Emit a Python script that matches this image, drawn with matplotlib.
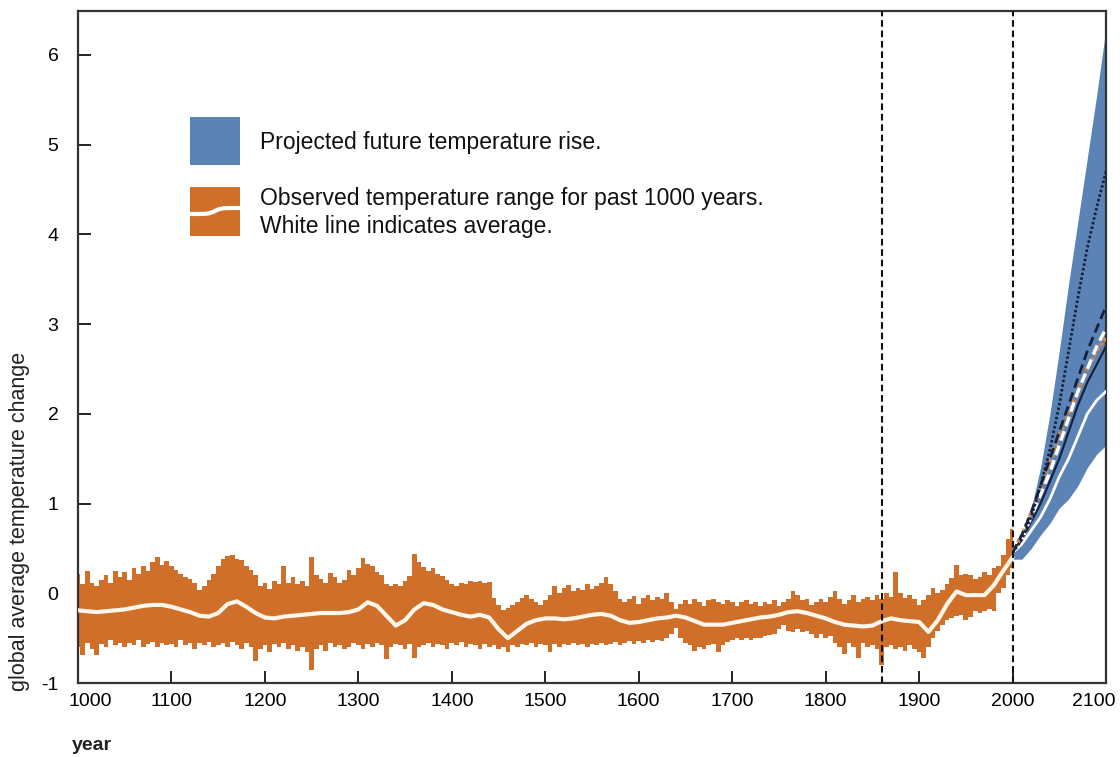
import numpy as np
import matplotlib
matplotlib.use("Agg")
import matplotlib.pyplot as plt
from matplotlib.patches import Rectangle
from matplotlib.lines import Line2D
from matplotlib.transforms import ScaledTranslation

plt.rcParams['font.family'] = ['Liberation Sans', 'DejaVu Sans']

# ---------------- data ----------------
# observed range, 5-year steps 1000..2000
obs_years = list(range(1000, 2001, 5))
obs_upper = [
    0.22, 0.10, 0.25, 0.12, 0.08, 0.15, 0.20, 0.12, 0.25, 0.18,
    0.24, 0.15, 0.28, 0.22, 0.30, 0.25, 0.35, 0.40, 0.32, 0.36,
    0.30, 0.26, 0.22, 0.18, 0.16, 0.12, 0.04, 0.08, 0.15, 0.22,
    0.30, 0.38, 0.41, 0.43, 0.38, 0.37, 0.30, 0.26, 0.20, 0.08,
    0.12, 0.05, 0.14, 0.10, 0.30, 0.12, 0.18, 0.10, 0.14, 0.08,
    0.40, 0.20, 0.16, 0.12, 0.23, 0.18, 0.12, 0.15, 0.26, 0.20,
    0.28, 0.39, 0.33, 0.30, 0.24, 0.20, 0.10, 0.08, 0.10, 0.08,
    0.14, 0.19, 0.44, 0.35, 0.29, 0.25, 0.28, 0.22, 0.19, 0.15,
    0.10, 0.08, 0.12, 0.10, 0.14, 0.13, 0.14, 0.12, 0.13, -0.05,
    -0.13, -0.19, -0.16, -0.13, -0.10, -0.05, -0.02, -0.06, -0.10, -0.13,
    -0.08, -0.02, 0.08, 0.00, 0.06, 0.09, 0.02, 0.06, 0.04, 0.10,
    0.05, 0.08, 0.12, 0.18, 0.10, 0.02, -0.06, -0.10, -0.06, -0.03,
    -0.12, -0.05, -0.02, -0.08, -0.04, -0.06, 0.00, -0.10, -0.17, -0.12,
    -0.08, -0.12, -0.06, -0.10, -0.14, -0.08, -0.06, -0.10, -0.12, -0.08,
    -0.10, -0.14, -0.10, -0.08, -0.12, -0.10, -0.14, -0.10, -0.12, -0.08,
    -0.14, -0.10, -0.06, 0.02, -0.02, -0.08, -0.06, -0.13, -0.10, -0.06,
    -0.10, -0.04, 0.02, -0.06, -0.12, -0.08, -0.02, -0.10, -0.06, -0.04,
    -0.08, -0.02, -0.06, 0.00, -0.04, 0.24, 0.00, -0.05, -0.02, -0.06,
    -0.13, -0.08, -0.02, 0.06, 0.00, 0.04, 0.10, 0.17, 0.31, 0.20,
    0.22, 0.20, 0.16, 0.18, 0.24, 0.20, 0.28, 0.30, 0.43, 0.60,
    0.72,
]
obs_lower = [
    -0.60, -0.69, -0.55, -0.62, -0.69, -0.56, -0.60, -0.52, -0.58, -0.55,
    -0.60, -0.55, -0.58, -0.52, -0.60, -0.56, -0.54, -0.60, -0.55, -0.58,
    -0.56, -0.60, -0.52, -0.58, -0.55, -0.62, -0.55, -0.58, -0.54, -0.60,
    -0.58, -0.55, -0.60, -0.54, -0.58, -0.62, -0.55, -0.60, -0.76, -0.62,
    -0.58, -0.65, -0.56, -0.60, -0.55, -0.62, -0.58, -0.64, -0.60, -0.66,
    -0.85, -0.62, -0.58, -0.64, -0.55, -0.60, -0.58, -0.62, -0.60, -0.55,
    -0.58, -0.62, -0.56, -0.60, -0.55, -0.58, -0.73, -0.60, -0.56, -0.58,
    -0.62, -0.56, -0.72, -0.60, -0.58, -0.55, -0.60, -0.56, -0.58, -0.62,
    -0.55, -0.58, -0.54, -0.60, -0.56, -0.58, -0.62, -0.56, -0.60, -0.58,
    -0.62, -0.60, -0.66, -0.58, -0.60, -0.56, -0.58, -0.55, -0.60, -0.56,
    -0.58, -0.66, -0.56, -0.60, -0.56, -0.58, -0.55, -0.58, -0.56, -0.60,
    -0.56, -0.58, -0.55, -0.58, -0.56, -0.54, -0.58, -0.55, -0.53, -0.56,
    -0.53, -0.55, -0.52, -0.54, -0.52, -0.53, -0.50, -0.45, -0.39, -0.50,
    -0.55, -0.58, -0.64, -0.60, -0.62, -0.58, -0.56, -0.66, -0.58, -0.54,
    -0.52, -0.50, -0.52, -0.50, -0.52, -0.50, -0.50, -0.48, -0.46, -0.45,
    -0.40, -0.35, -0.42, -0.43, -0.40, -0.43, -0.42, -0.45, -0.50, -0.45,
    -0.50, -0.48, -0.55, -0.60, -0.68, -0.55, -0.60, -0.72, -0.55, -0.60,
    -0.58, -0.62, -0.80, -0.60, -0.58, -0.62, -0.60, -0.64, -0.58, -0.62,
    -0.65, -0.72, -0.60, -0.50, -0.42, -0.35, -0.30, -0.28, -0.25, -0.24,
    -0.30, -0.26, -0.20, -0.22, -0.20, -0.18, -0.20, 0.00, 0.06, 0.20,
    0.28,
]

# observed average (white line), 10-year steps
mean_years = list(range(1000, 2001, 10))
obs_mean = [
    -0.19, -0.20, -0.21, -0.20, -0.19, -0.18, -0.16, -0.14, -0.13, -0.13,
    -0.15, -0.18, -0.21, -0.25, -0.26, -0.22, -0.12, -0.09, -0.15, -0.22,
    -0.27, -0.28, -0.26, -0.25, -0.24, -0.23, -0.22, -0.22, -0.22, -0.21,
    -0.18, -0.10, -0.14, -0.25, -0.36, -0.30, -0.18, -0.11, -0.13, -0.18,
    -0.21, -0.24, -0.26, -0.24, -0.27, -0.40, -0.50, -0.42, -0.34, -0.30,
    -0.28, -0.28, -0.29, -0.28, -0.26, -0.24, -0.23, -0.25, -0.30, -0.33,
    -0.32, -0.30, -0.28, -0.27, -0.25, -0.27, -0.31, -0.35, -0.35, -0.35,
    -0.33, -0.31, -0.29, -0.27, -0.26, -0.24, -0.21, -0.20, -0.22, -0.25,
    -0.28, -0.32, -0.35, -0.36, -0.37, -0.36, -0.31, -0.28, -0.30, -0.31,
    -0.32, -0.43, -0.30, -0.12, 0.02, -0.02, -0.02, -0.02, 0.09, 0.25,
    0.40,
]

# projections, 10-year steps 2000..2100
proj_years = list(range(2000, 2101, 10))
proj_upper = [0.42, 0.65, 0.95, 1.40, 2.00, 2.70, 3.45, 4.15, 4.85, 5.55, 6.30]
proj_lower = [0.38, 0.38, 0.50, 0.65, 0.78, 0.95, 1.05, 1.20, 1.40, 1.55, 1.65]
scen_dotted = [0.45, 0.60, 0.85, 1.20, 1.60, 2.10, 2.70, 3.30, 3.85, 4.30, 4.70]
scen_dashed = [0.45, 0.65, 0.90, 1.20, 1.50, 1.80, 2.10, 2.40, 2.70, 2.95, 3.20]
scen_white_dashed = [0.45, 0.60, 0.85, 1.10, 1.35, 1.65, 1.95, 2.25, 2.50, 2.75, 2.95]
scen_orange = [0.45, 0.65, 0.90, 1.15, 1.45, 1.75, 2.00, 2.25, 2.50, 2.70, 2.85]
scen_black = [0.45, 0.60, 0.80, 1.00, 1.25, 1.50, 1.80, 2.10, 2.35, 2.55, 2.75]
scen_white = [0.45, 0.55, 0.70, 0.85, 1.05, 1.30, 1.50, 1.75, 2.00, 2.15, 2.25]

marker_years = [1860, 2000]
x_ticks = list(range(1000, 2101, 100))
y_ticks = [-1, 0, 1, 2, 3, 4, 5, 6]

legend_texts = ["Projected future temperature rise.",
                "Observed temperature range for past 1000 years.",
                "White line indicates average."]

# ---------------- figure ----------------
W, H = 1120, 757
fig = plt.figure(figsize=(W / 100, H / 100), dpi=100)
ax = fig.add_axes([78 / W, 1 - 683 / H, (1106 - 78) / W, (683 - 11) / H])

BLUE = '#5b83b6'
ORANGE = '#cf6f2a'
NAVY = '#15223f'

ax.fill_between(obs_years, obs_lower, obs_upper, step='mid',
                color=ORANGE, lw=0, zorder=2)
ax.plot(mean_years, obs_mean, color='#fff6ea', lw=3, zorder=3,
        solid_capstyle='round')

ax.fill_between(proj_years, proj_lower, proj_upper, color=BLUE, lw=0, zorder=2)
ax.plot(proj_years, scen_white, color='white', lw=2, zorder=4)
ax.plot(proj_years, scen_black, color=NAVY, lw=1.6, zorder=4)
ax.plot(proj_years, scen_orange, color='#c98a55', lw=2.6, ls=(0, (1, 0.6)), zorder=4)
ax.plot(proj_years, scen_white_dashed, color='white', lw=2.4, ls=(0, (3, 1.6)), zorder=4)
ax.plot(proj_years, scen_dashed, color=NAVY, lw=2, ls=(0, (3.5, 1.8)), zorder=4)
ax.plot(proj_years, scen_dotted, color=NAVY, lw=2.0, ls=(0, (0.9, 0.8)), zorder=4)

for yr in marker_years:
    ax.axvline(yr, color='#111111', lw=1.5, ls=(0, (3.2, 1.8)), zorder=5)

ax.set_xlim(1000, 2100)
ax.set_ylim(-1, 6.49)
ax.set_xticks(x_ticks)
ax.set_yticks(y_ticks)
ax.set_xticklabels([str(v) for v in x_ticks], fontsize=14)
ax.set_yticklabels([str(v) for v in y_ticks], fontsize=14)
ax.tick_params(axis='both', direction='in', length=9, width=1.4, color='#222222')
ax.tick_params(axis='x', pad=7)
ax.tick_params(axis='y', pad=14)
for s in ax.spines.values():
    s.set_linewidth(1.6)
    s.set_color('#333333')

xl = ax.get_xticklabels()
xl[0].set_transform(xl[0].get_transform() + ScaledTranslation(0.12, 0, fig.dpi_scale_trans))
xl[-1].set_transform(xl[-1].get_transform() + ScaledTranslation(-0.12, 0, fig.dpi_scale_trans))

fig.text(20 / W, 1 - 521 / H, "global average temperature change", rotation=90,
         ha='center', va='center', fontsize=15.5, color='#222222')
fig.text(72 / W, 1 - 745 / H, "year", ha='left', va='center', fontsize=14,
         fontweight='bold', color='#222222')

# legend (drawn manually)
fig.add_artist(Rectangle((190 / W, 1 - 165 / H), 50 / W, 48 / H,
                         transform=fig.transFigure, color=BLUE, lw=0))
fig.add_artist(Rectangle((190 / W, 1 - 236 / H), 50 / W, 49 / H,
                         transform=fig.transFigure, color=ORANGE, lw=0))
wx = np.linspace(190, 240, 30)
wy = 211 - 3 * np.tanh((wx - 215) / 6)
fig.add_artist(Line2D(wx / W, 1 - wy / H, transform=fig.transFigure,
                      color='white', lw=3))
fig.text(260 / W, 1 - 142 / H, legend_texts[0], ha='left', va='center',
         fontsize=16.5, color='#111111')
fig.text(260 / W, 1 - 198 / H, legend_texts[1], ha='left', va='center',
         fontsize=16.5, color='#111111')
fig.text(260 / W, 1 - 226 / H, legend_texts[2], ha='left', va='center',
         fontsize=16.5, color='#111111')

fig.savefig("out.png", dpi=100)
